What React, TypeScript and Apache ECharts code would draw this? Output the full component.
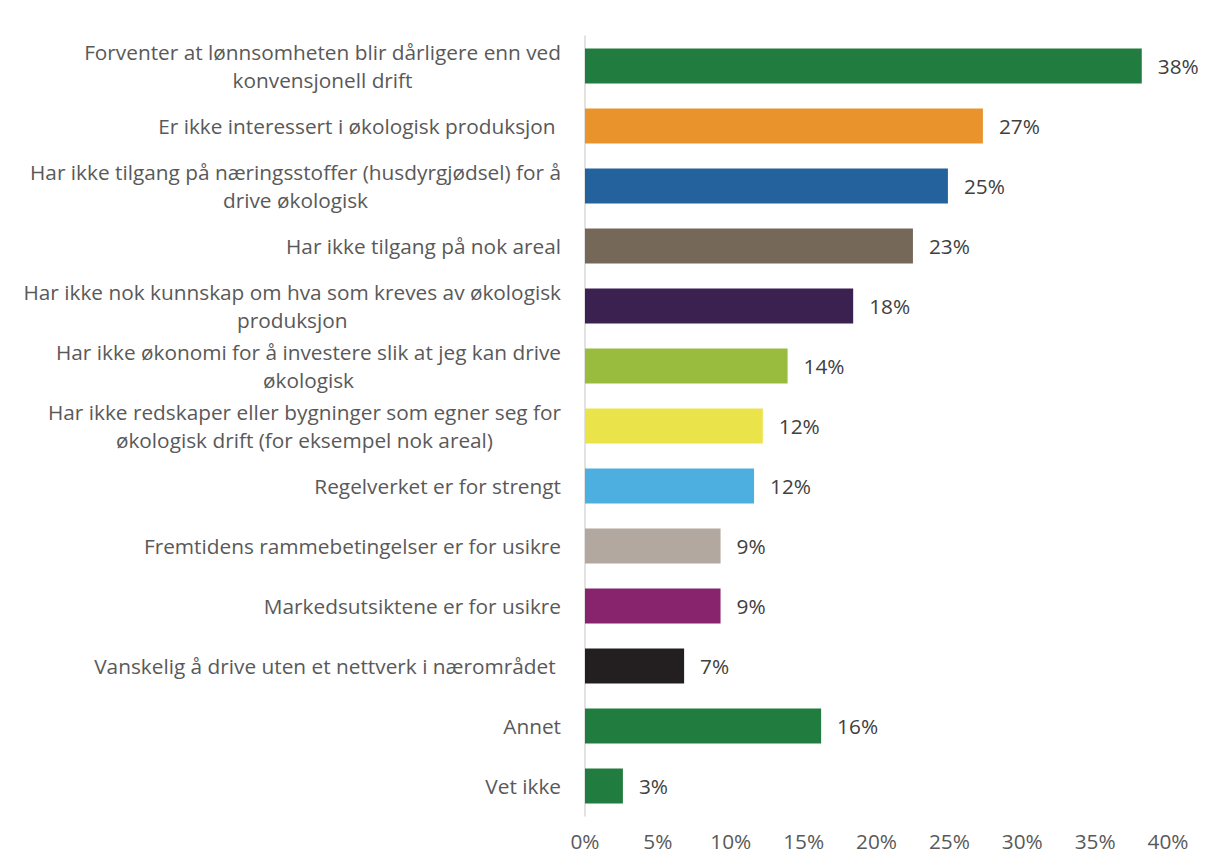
import React, { useEffect, useRef } from "react";
import * as echarts from "echarts";

const categories: string[] = [
  "Forventer at lønnsomheten blir dårligere enn ved\nkonvensjonell drift",
  "Er ikke interessert i økologisk produksjon ",
  "Har ikke tilgang på næringsstoffer (husdyrgjødsel) for å\ndrive økologisk",
  "Har ikke tilgang på nok areal",
  "Har ikke nok kunnskap om hva som kreves av økologisk\nproduksjon",
  "Har ikke økonomi for å investere slik at jeg kan drive\nøkologisk",
  "Har ikke redskaper eller bygninger som egner seg for\nøkologisk drift (for eksempel nok areal)",
  "Regelverket er for strengt",
  "Fremtidens rammebetingelser er for usikre",
  "Markedsutsiktene er for usikre",
  "Vanskelig å drive uten et nettverk i nærområdet ",
  "Annet",
  "Vet ikke",
];

const values: number[] = [38.2, 27.3, 24.9, 22.5, 18.4, 13.9, 12.2, 11.6, 9.3, 9.3, 6.8, 16.2, 2.6];

const barColors: string[] = [
  "#217c3f",
  "#e8932b",
  "#24629e",
  "#756859",
  "#3b2150",
  "#99bb3e",
  "#ebe34a",
  "#4cafdf",
  "#b2a89f",
  "#88236e",
  "#231f20",
  "#217c3f",
  "#217c3f",
];

const xTicks = { min: 0, max: 40, interval: 5 };

const FONT = "'Open Sans', sans-serif";
const FS = 20.8;

export default function App() {
  const ref = useRef<HTMLDivElement>(null);

  useEffect(() => {
    if (!ref.current) return;
    const chart = echarts.init(ref.current, null, { renderer: "svg" });
    chart.setOption({
      animation: false,
      backgroundColor: "#ffffff",
      graphic: {
        elements: [
          {
            type: "rect",
            left: 6,
            top: 6,
            silent: true,
            z: 100,
            shape: { width: 2, height: 900 },
            style: { fill: "#d9d9d9" },
          },
          {
            type: "rect",
            left: 6,
            top: 6,
            silent: true,
            z: 100,
            shape: { width: 1300, height: 2 },
            style: { fill: "#d9d9d9" },
          },
        ],
      },
      grid: { left: 585, right: 45, top: 36, bottom: 49, containLabel: false },
      xAxis: {
        type: "value",
        min: xTicks.min,
        max: xTicks.max,
        interval: xTicks.interval,
        axisLine: { show: false },
        axisTick: { show: false },
        splitLine: { show: false },
        axisLabel: {
          formatter: (v: number) => `${v}%`,
          color: "#595959",
          fontFamily: FONT,
          fontSize: FS,
          margin: 14,
        },
      },
      yAxis: {
        type: "category",
        data: categories,
        inverse: true,
        axisLine: { show: true, lineStyle: { color: "#d9d9d9", width: 1.5 } },
        axisTick: { show: false },
        axisLabel: {
          margin: 24,
          color: "#595959",
          fontFamily: FONT,
          fontSize: FS,
          lineHeight: 28,
          formatter: (v: string) =>
            v
              .split("\n")
              .map((l) => `{c|${l}}`)
              .join("\n"),
          rich: {
            c: {
              align: "center",
              color: "#595959",
              fontFamily: FONT,
              fontSize: FS,
              lineHeight: 28,
            },
          },
        },
      },
      series: [
        {
          type: "bar",
          barWidth: 35,
          data: values.map((v, i) => ({
            value: v,
            itemStyle: { color: barColors[i] },
          })),
          label: {
            show: true,
            position: "right",
            distance: 16,
            color: "#404040",
            fontFamily: FONT,
            fontSize: FS,
            formatter: (p: any) => `${Math.round(p.value)}%`,
          },
        },
      ],
    });
    return () => chart.dispose();
  }, []);

  return (
    <div style={{ margin: -8, width: 1213, height: 865, position: "relative" }}>
      <div ref={ref} style={{ width: 1213, height: 865 }} />
    </div>
  );
}
